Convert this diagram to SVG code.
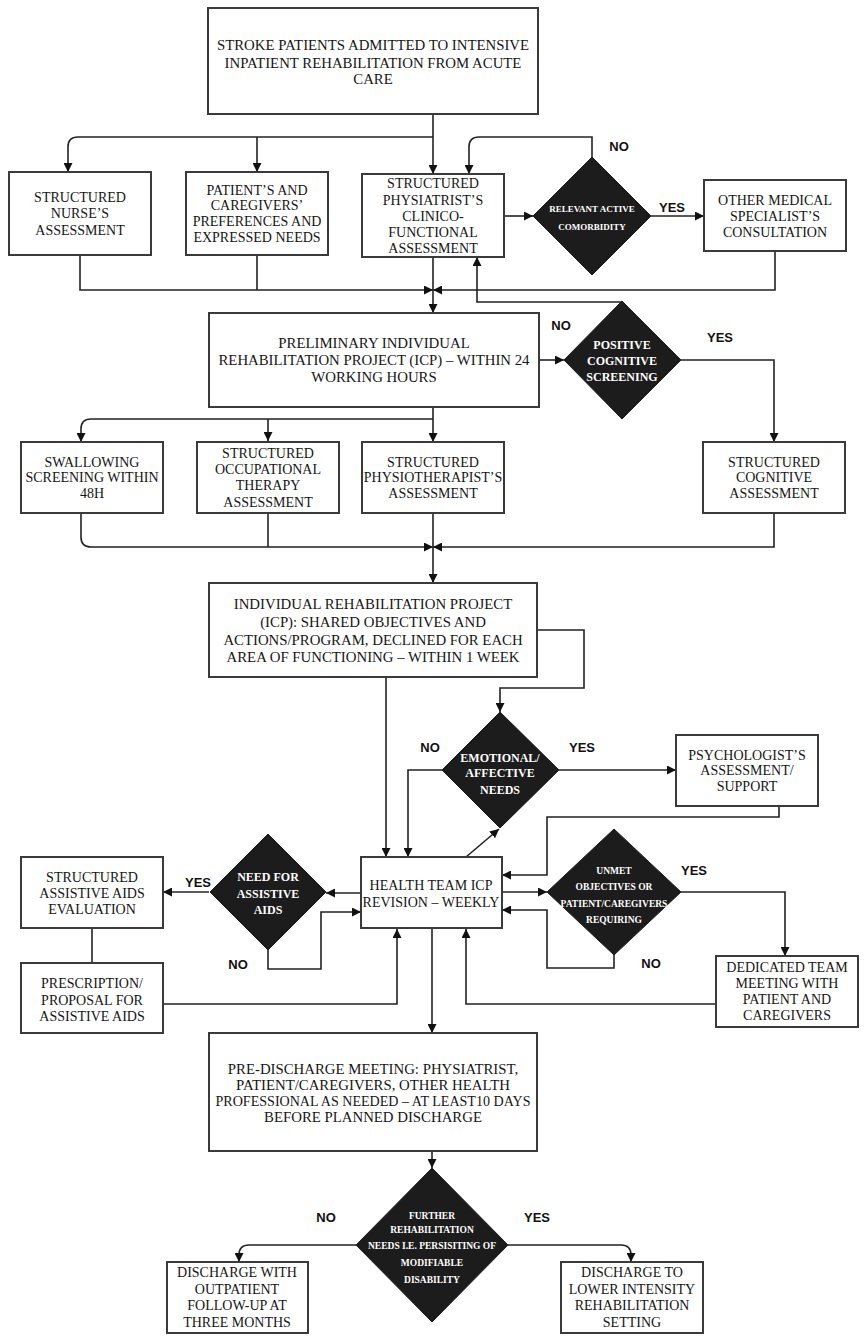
<svg xmlns="http://www.w3.org/2000/svg" width="868" height="1339" viewBox="0 0 868 1339">
<style>
.bx{fill:#fff;stroke:#3a3a3a;stroke-width:2}
.dm{fill:#1c1c1c;stroke:#1c1c1c;stroke-width:1}
.t{font-family:"Liberation Serif","Times New Roman",serif;font-size:14px;fill:#151515;text-anchor:middle}
.tb{font-family:"Liberation Serif","Times New Roman",serif;font-size:14.8px;fill:#151515;text-anchor:middle}
.dt{font-family:"Liberation Serif","Times New Roman",serif;font-weight:bold;fill:#fff;text-anchor:middle}
.lb{font-family:"Liberation Sans",Arial,sans-serif;font-weight:bold;font-size:13px;fill:#111;text-anchor:middle}
.c{fill:none;stroke:#222;stroke-width:1.6}
.a{marker-end:url(#ah)}
</style>
<defs>
<marker id="ah" viewBox="0 0 10 10" refX="10" refY="5" markerWidth="9" markerHeight="9" markerUnits="userSpaceOnUse" orient="auto">
<path d="M0,0 L10,5 L0,10 z" fill="#111"/>
</marker>
</defs>

<g id="connectors">
<path class="c a" d="M433,113 V174"/>
<path class="c a" d="M433,137 H78 Q68,137 68,147 V172"/>
<path class="c a" d="M257,137 V172"/>
<path class="c a" d="M504,216 H533"/>
<path class="c a" d="M651,216 H704"/>
<path class="c a" d="M592,157 V137 H479 Q469,137 469,147 V174"/>
<path class="c a" d="M80,255 V290 H433"/>
<path class="c" d="M257,255 V290"/>
<path class="c a" d="M775,251 V290 H433"/>
<path class="c a" d="M433,257 V313"/>
<path class="c a" d="M621,302 H477 V257"/>
<path class="c a" d="M539,360 H564"/>
<path class="c a" d="M681,360 H774 V442"/>
<path class="c a" d="M433,407 V442"/>
<path class="c a" d="M433,419 H91 Q81,419 81,429 V442"/>
<path class="c a" d="M268,419 V441"/>
<path class="c a" d="M81,513 V537 Q81,547 91,547 H433"/>
<path class="c" d="M268,513 V547"/>
<path class="c a" d="M433,513 V583"/>
<path class="c a" d="M774,513 V547 H433"/>
<path class="c a" d="M386,677 V857"/>
<path class="c a" d="M537,630 H584 V688 H500 V712"/>
<path class="c a" d="M442,770 H408 V857"/>
<path class="c a" d="M559,770 H676"/>
<path class="c a" d="M779,806 V817 H547 V875 H502"/>
<path class="c a" d="M466,857 L499,829"/>
<path class="c a" d="M502,892 H547"/>
<path class="c a" d="M681,892 H785 V956"/>
<path class="c a" d="M614,955 V968 H547 V910 H502"/>
<path class="c a" d="M716,1004 H466 V929"/>
<path class="c a" d="M361,893 H326"/>
<path class="c a" d="M209,892 H163"/>
<path class="c" d="M92,928 V963"/>
<path class="c a" d="M163,1004 H397 V929"/>
<path class="c a" d="M268,950 V969 H321 V912 H361"/>
<path class="c a" d="M432,928 V1033"/>
<path class="c a" d="M432,1151 V1168"/>
<path class="c a" d="M356,1245 H249 Q239,1245 239,1255 V1262"/>
<path class="c a" d="M508,1245 H621 Q631,1245 631,1255 V1262"/>
</g>

<g id="labels">
<text class="lb" x="619" y="151">NO</text>
<text class="lb" x="672" y="212">YES</text>
<text class="lb" x="561" y="330">NO</text>
<text class="lb" x="720" y="342">YES</text>
<text class="lb" x="430" y="752">NO</text>
<text class="lb" x="582" y="752">YES</text>
<text class="lb" x="694" y="875">YES</text>
<text class="lb" x="651" y="968">NO</text>
<text class="lb" x="198" y="887">YES</text>
<text class="lb" x="238" y="969">NO</text>
<text class="lb" x="326" y="1222">NO</text>
<text class="lb" x="537" y="1222">YES</text>
</g>

<g id="n-admit">
<rect class="bx" x="208" y="8" width="330" height="106"/>
<text class="tb" x="373" y="50">STROKE PATIENTS ADMITTED TO INTENSIVE</text>
<text class="tb" x="373" y="68">INPATIENT REHABILITATION FROM ACUTE</text>
<text class="tb" x="373" y="84">CARE</text>
</g>

<g id="n-nurse">
<rect class="bx" x="9" y="172" width="142" height="83"/>
<text class="t" x="80" y="202">STRUCTURED</text>
<text class="t" x="80" y="218">NURSE’S</text>
<text class="t" x="80" y="235">ASSESSMENT</text>
</g>

<g id="n-patient">
<rect class="bx" x="186" y="172" width="142" height="83"/>
<text class="t" x="257" y="195">PATIENT’S AND</text>
<text class="t" x="257" y="210">CAREGIVERS’</text>
<text class="t" x="257" y="226">PREFERENCES AND</text>
<text class="t" x="257" y="242">EXPRESSED NEEDS</text>
</g>

<g id="n-physiatrist">
<rect class="bx" x="362" y="174" width="142" height="83"/>
<text class="t" x="433" y="188">STRUCTURED</text>
<text class="t" x="433" y="205">PHYSIATRIST’S</text>
<text class="t" x="433" y="221">CLINICO-</text>
<text class="t" x="433" y="237">FUNCTIONAL</text>
<text class="t" x="433" y="253">ASSESSMENT</text>
</g>

<g id="n-comorbidity">
<polygon class="dm" points="592,157 651,216 592,275 533,216"/>
<text class="dt" x="592" y="212" font-size="9">RELEVANT ACTIVE</text>
<text class="dt" x="592" y="230" font-size="9">COMORBIDITY</text>
</g>

<g id="n-specialist">
<rect class="bx" x="704" y="180" width="142" height="71"/>
<text class="t" x="775" y="205">OTHER MEDICAL</text>
<text class="t" x="775" y="221">SPECIALIST’S</text>
<text class="t" x="775" y="237">CONSULTATION</text>
</g>

<g id="n-preliminary">
<rect class="bx" x="209" y="313" width="330" height="94"/>
<text class="tb" x="374" y="348">PRELIMINARY INDIVIDUAL</text>
<text class="tb" x="374" y="365">REHABILITATION PROJECT (ICP) – WITHIN 24</text>
<text class="tb" x="374" y="382">WORKING HOURS</text>
</g>

<g id="n-cogscreen">
<polygon class="dm" points="622,301 681,360 622,419 564,360"/>
<text class="dt" x="622" y="349" font-size="12">POSITIVE</text>
<text class="dt" x="622" y="365" font-size="12">COGNITIVE</text>
<text class="dt" x="622" y="381" font-size="12">SCREENING</text>
</g>

<g id="n-swallow">
<rect class="bx" x="21" y="442" width="142" height="71"/>
<text class="t" x="92" y="467">SWALLOWING</text>
<text class="t" x="92" y="482">SCREENING WITHIN</text>
<text class="t" x="92" y="498">48H</text>
</g>

<g id="n-ot">
<rect class="bx" x="197" y="442" width="142" height="71"/>
<text class="t" x="268" y="458">STRUCTURED</text>
<text class="t" x="268" y="474">OCCUPATIONAL</text>
<text class="t" x="268" y="490">THERAPY</text>
<text class="t" x="268" y="507">ASSESSMENT</text>
</g>

<g id="n-physio">
<rect class="bx" x="362" y="442" width="142" height="71"/>
<text class="t" x="433" y="467">STRUCTURED</text>
<text class="t" x="433" y="482">PHYSIOTHERAPIST’S</text>
<text class="t" x="433" y="498">ASSESSMENT</text>
</g>

<g id="n-cognitive">
<rect class="bx" x="703" y="442" width="142" height="71"/>
<text class="t" x="774" y="467">STRUCTURED</text>
<text class="t" x="774" y="482">COGNITIVE</text>
<text class="t" x="774" y="498">ASSESSMENT</text>
</g>

<g id="n-icp">
<rect class="bx" x="209" y="583" width="328" height="94"/>
<text class="tb" x="373" y="609">INDIVIDUAL REHABILITATION PROJECT</text>
<text class="tb" x="373" y="627">(ICP): SHARED OBJECTIVES AND</text>
<text class="tb" x="373" y="645">ACTIONS/PROGRAM, DECLINED FOR EACH</text>
<text class="tb" x="373" y="662">AREA OF FUNCTIONING – WITHIN 1 WEEK</text>
</g>

<g id="n-emotional">
<polygon class="dm" points="500,712 559,770 500,828 442,770"/>
<text class="dt" x="500" y="762" font-size="12">EMOTIONAL/</text>
<text class="dt" x="500" y="777" font-size="12">AFFECTIVE</text>
<text class="dt" x="500" y="794" font-size="12">NEEDS</text>
</g>

<g id="n-psychologist">
<rect class="bx" x="676" y="735" width="142" height="71"/>
<text class="t" x="747" y="760">PSYCHOLOGIST’S</text>
<text class="t" x="747" y="775">ASSESSMENT/</text>
<text class="t" x="747" y="791">SUPPORT</text>
</g>

<g id="n-health">
<rect class="bx" x="361" y="857" width="141" height="71"/>
<text class="t" x="431" y="890">HEALTH TEAM ICP</text>
<text class="t" x="431" y="907">REVISION – WEEKLY</text>
</g>

<g id="n-unmet">
<polygon class="dm" points="614,829 681,892 614,955 547,892"/>
<text class="dt" x="614" y="874" font-size="9.5">UNMET</text>
<text class="dt" x="614" y="890" font-size="9.5">OBJECTIVES OR</text>
<text class="dt" x="614" y="907" font-size="9.5">PATIENT/CAREGIVERS</text>
<text class="dt" x="614" y="923" font-size="9.5">REQUIRING</text>
</g>

<g id="n-dedicated">
<rect class="bx" x="716" y="956" width="142" height="71"/>
<text class="t" x="787" y="972">DEDICATED TEAM</text>
<text class="t" x="787" y="988">MEETING WITH</text>
<text class="t" x="787" y="1004">PATIENT AND</text>
<text class="t" x="787" y="1020">CAREGIVERS</text>
</g>

<g id="n-needaids">
<polygon class="dm" points="268,834 326,892 268,950 210,892"/>
<text class="dt" x="268" y="881" font-size="12">NEED FOR</text>
<text class="dt" x="268" y="898" font-size="12">ASSISTIVE</text>
<text class="dt" x="268" y="914" font-size="12">AIDS</text>
</g>

<g id="n-aidseval">
<rect class="bx" x="21" y="857" width="142" height="71"/>
<text class="t" x="92" y="882">STRUCTURED</text>
<text class="t" x="92" y="898">ASSISTIVE AIDS</text>
<text class="t" x="92" y="914">EVALUATION</text>
</g>

<g id="n-prescription">
<rect class="bx" x="21" y="963" width="142" height="70"/>
<text class="t" x="92" y="988">PRESCRIPTION/</text>
<text class="t" x="92" y="1005">PROPOSAL FOR</text>
<text class="t" x="92" y="1021">ASSISTIVE AIDS</text>
</g>

<g id="n-predischarge">
<rect class="bx" x="209" y="1033" width="328" height="118"/>
<text class="tb" x="373" y="1074">PRE-DISCHARGE MEETING: PHYSIATRIST,</text>
<text class="tb" x="373" y="1090">PATIENT/CAREGIVERS, OTHER HEALTH</text>
<text class="tb" x="373" y="1106" textLength="315" lengthAdjust="spacingAndGlyphs">PROFESSIONAL AS NEEDED – AT LEAST10 DAYS</text>
<text class="tb" x="373" y="1122">BEFORE PLANNED DISCHARGE</text>
</g>

<g id="n-further">
<polygon class="dm" points="432,1168 508,1245 432,1322 356,1245"/>
<text class="dt" x="432" y="1219" font-size="9.5">FURTHER</text>
<text class="dt" x="432" y="1233" font-size="9.5">REHABILITATION</text>
<text class="dt" x="432" y="1249" font-size="9.5">NEEDS I.E. PERSISITING OF</text>
<text class="dt" x="432" y="1266" font-size="9.5">MODIFIABLE</text>
<text class="dt" x="432" y="1283" font-size="9.5">DISABILITY</text>
</g>

<g id="n-outpatient">
<rect class="bx" x="167" y="1262" width="141" height="71"/>
<text class="t" x="237" y="1277">DISCHARGE WITH</text>
<text class="t" x="237" y="1294">OUTPATIENT</text>
<text class="t" x="237" y="1310">FOLLOW-UP AT</text>
<text class="t" x="237" y="1327">THREE MONTHS</text>
</g>

<g id="n-lower">
<rect class="bx" x="561" y="1262" width="142" height="71"/>
<text class="t" x="632" y="1277">DISCHARGE TO</text>
<text class="t" x="632" y="1294">LOWER INTENSITY</text>
<text class="t" x="632" y="1310">REHABILITATION</text>
<text class="t" x="632" y="1327">SETTING</text>
</g>
</svg>
